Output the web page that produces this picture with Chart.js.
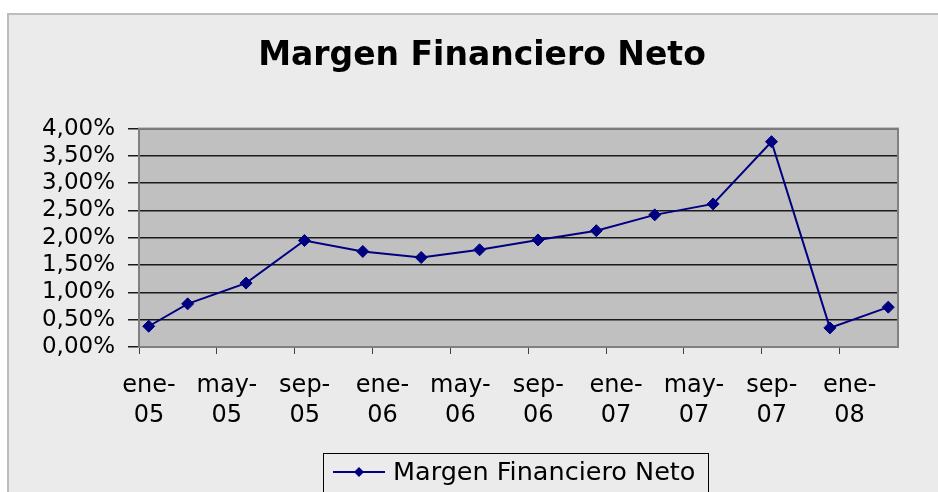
<!DOCTYPE html>
<html>
<head>
<meta charset="utf-8">
<script src="https://cdn.jsdelivr.net/npm/chart.js@4.4.1/dist/chart.umd.min.js"></script>
<style>
  html, body { margin: 0; padding: 0; background: #fff; }
  body { width: 938px; height: 492px; position: relative; overflow: hidden; font-family: 'DejaVu Sans', sans-serif; }
  #marco {
    position: absolute; left: 7px; top: 13px; width: 940px; height: 490px;
    background: #ebebeb; border-top: 2px solid #bdbdbd; border-left: 2px solid #bdbdbd;
  }
  #wrap { position: absolute; left: 0; top: 0; width: 938px; height: 492px; }
  #leyenda {
    position: absolute; left: 323px; top: 453px; width: 386px; height: 60px;
    border: 1px solid #000; box-sizing: border-box;
  }
  #leyenda svg { position: absolute; left: 9px; top: 8px; }
  #leyenda span { position: absolute; left: 69px; top: 2px; font-size: 25.5px; color: #000; white-space: nowrap; }
</style>
</head>
<body>
<div id="marco"></div>
<div id="wrap"><canvas id="margenChart"></canvas></div>
<div id="leyenda">
  <svg width="52" height="20"><line x1="0" y1="10" x2="52" y2="10" stroke="#000080" stroke-width="2"/><polygon points="26,5 31,10 26,15 21,10" fill="#000080"/></svg>
  <span>Margen Financiero Neto</span>
</div>
<script>
// ==================== DATA ====================
const PERIODOS = ['ene-05','mar-05','jun-05','sep-05','dic-05','mar-06','jun-06','sep-06','dic-06','mar-07','jun-07','sep-07','dic-07','mar-08'];
const MES_INDICE = [0, 2, 5, 8, 11, 14, 17, 20, 23, 26, 29, 32, 35, 38];
const MARGEN = [0.38, 0.79, 1.17, 1.95, 1.75, 1.64, 1.78, 1.96, 2.13, 2.42, 2.62, 3.76, 0.35, 0.73];
const ETIQUETAS_X = ['ene-05','may-05','sep-05','ene-06','may-06','sep-06','ene-07','may-07','sep-07','ene-08'];
const TICKS_X = [0, 4, 8, 12, 16, 20, 24, 28, 32, 36];
const TOTAL_MESES = 39;

// plot area background + border
const fondoPlot = {
  id: 'fondoPlot',
  beforeDraw(chart) {
    const { ctx, chartArea: a } = chart;
    ctx.save();
    ctx.fillStyle = '#c0c0c0';
    ctx.fillRect(a.left, a.top, a.width, a.height);
    ctx.restore();
  },
  beforeDatasetsDraw(chart) {
    const { ctx, chartArea: a } = chart;
    ctx.save();
    ctx.strokeStyle = '#808080';
    ctx.lineWidth = 2;
    ctx.strokeRect(a.left, a.top, a.width, a.height);
    ctx.restore();
  }
};

new Chart(document.getElementById('margenChart'), {
  type: 'line',
  data: {
    datasets: [{
      label: 'Margen Financiero Neto',
      data: MES_INDICE.map((m, i) => ({ x: m + 0.5, y: MARGEN[i] })),
      borderColor: '#000080',
      backgroundColor: '#000080',
      borderWidth: 2,
      tension: 0,
      pointStyle: 'rectRot',
      pointRadius: 6,
      pointBackgroundColor: '#000080',
      pointBorderColor: '#000080',
      pointBorderWidth: 1
    }]
  },
  options: {
    responsive: true,
    maintainAspectRatio: false,
    animation: false,
    layout: { padding: { left: 39, right: 13, top: 0, bottom: 0 } },
    plugins: {
      legend: { display: false },
      tooltip: { enabled: false },
      title: {
        display: true,
        text: 'Margen Financiero Neto',
        color: '#000',
        font: { family: 'DejaVu Sans', size: 33, weight: 'bold' },
        padding: { top: 37, bottom: 52 }
      }
    },
    scales: {
      x: {
        type: 'linear',
        min: 0,
        max: TOTAL_MESES,
        afterBuildTicks: (s) => { s.ticks = TICKS_X.map(v => ({ value: v })); },
        afterFit: (s) => { s.height = 145; },
        grid: { drawOnChartArea: false, drawTicks: true, tickLength: 7, color: '#404040', lineWidth: 1 },
        border: { display: true, color: '#808080', width: 2 },
        ticks: {
          autoSkip: false,
          maxRotation: 0,
          labelOffset: 10,
          padding: 16,
          color: '#000',
          font: { family: 'DejaVu Sans', size: 24, lineHeight: 1.28 },
          callback: (v, i) => {
            const p = ETIQUETAS_X[i].split('-');
            return [p[0] + '-', p[1]];
          }
        }
      },
      y: {
        min: 0,
        max: 4,
        afterFit: (s) => { s.width = 100; },
        grid: { color: '#1a1a1a', lineWidth: 1.5, tickLength: 11 },
        border: { display: true, color: '#808080', width: 2 },
        ticks: {
          stepSize: 0.5,
          autoSkip: false,
          padding: 13,
          color: '#000',
          font: { family: 'DejaVu Sans', size: 23 },
          callback: (v) => v.toFixed(2).replace('.', ',') + '%'
        }
      },
      // empty spacer on the right so the title sits where the original has it
      yDer: {
        position: 'right',
        min: 0,
        max: 4,
        afterFit: (s) => { s.width = 27; },
        grid: { display: false },
        border: { display: false },
        ticks: { display: false }
      }
    }
  },
  plugins: [fondoPlot]
});
</script>
</body>
</html>
